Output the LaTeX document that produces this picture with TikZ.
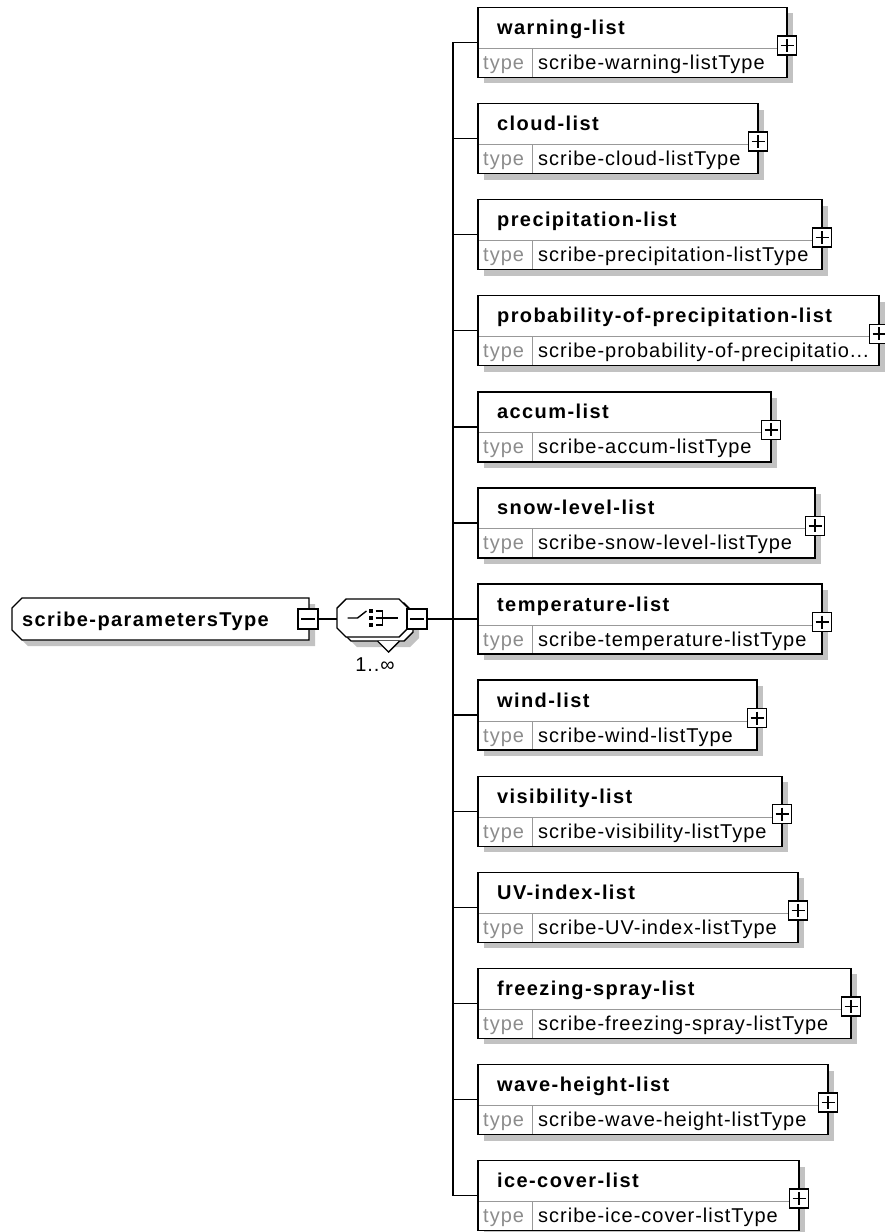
\documentclass[tikz,border=0pt]{standalone}
\usepackage{fontspec}
\setmainfont{Liberation Sans}
\newfontfamily\xsdfont{Liberation Sans}[LetterSpace=5]
\newfontfamily\xsdboldfont{Liberation Sans}[LetterSpace=7]
\usetikzlibrary{shadows,positioning}

\tikzset{
  wire/.style={line width=1.4pt},
  outline/.style={draw, line width=1.4pt, fill=white},
  shade/.style={fill=black!24},
  boxshadow/.style={drop shadow={shadow xshift=6pt, shadow yshift=-6pt, fill=black!24, opacity=1}},
  elembox/.style={draw, line width=1.4pt, fill=white, rectangle, inner sep=0pt, outer sep=0pt,
    minimum height=70pt, anchor=north west, boxshadow,
    path picture={
      \draw[black!40, line width=1pt]
        ([yshift=-41pt]path picture bounding box.north west) -- ([yshift=-41pt]path picture bounding box.north east)
        ([xshift=54pt,yshift=-41pt]path picture bounding box.north west) -- ([xshift=54pt]path picture bounding box.south west);
    }},
  holder/.style={rectangle, inner sep=0pt, outer sep=0pt},
  titletext/.style={anchor=base west, inner sep=0pt, font=\xsdboldfont\bfseries\fontsize{20}{24}\selectfont},
  kindtext/.style={anchor=base west, inner sep=0pt, text=black!45, font=\xsdfont\fontsize{20}{24}\selectfont},
  typetext/.style={anchor=base west, inner sep=0pt, font=\xsdfont\fontsize{20}{24}\selectfont},
  plusbox/.style={draw, line width=1.4pt, fill=white, minimum size=19pt, inner sep=0pt, outer sep=0pt,
    path picture={
      \draw[line width=1.6pt]
        ([xshift=3pt]path picture bounding box.west) -- ([xshift=-3pt]path picture bounding box.east)
        ([yshift=-3pt]path picture bounding box.north) -- ([yshift=3pt]path picture bounding box.south);
    }},
  minusbox/.style={draw, line width=1.4pt, fill=white, minimum size=20pt, inner sep=0pt, outer sep=0pt,
    path picture={
      \draw[line width=1.6pt]
        ([xshift=3pt]path picture bounding box.west) -- ([xshift=-3pt]path picture bounding box.east);
    }}
}

\begin{document}
\begin{tikzpicture}[x=1pt, y=-1pt]
\def\boxX{478}
\def\trunkX{453}
\def\startY{7.4}
\def\gapY{96.1}
\def\midY{619}
\useasboundingbox (0,0) rectangle (884,1232);

% root type
\fill[shade] (28,604) -- (315,604) -- (315,646) -- (28,646) -- (18,636) -- (18,614) -- cycle;
\path[outline] (22,598) -- (309,598) -- (309,640) -- (22,640) -- (12,630) -- (12,608) -- cycle;
\node[holder, minimum width=297pt, minimum height=42pt] (root) at (160.5,\midY) {};
\node[titletext] (root-title) at (22,\midY+7) {scribe-parametersType};
\node[minusbox] (root-m) at (308,\midY) {};

% sequence compositor, 1..unbounded
\fill[shade] (357,609) -- (410,609) -- (419,618) -- (419,638) -- (410,647) -- (357,647) -- (348,638) -- (348,618) -- cycle;
\path[outline] (351,603) -- (404,603) -- (413,612) -- (413,632) -- (404,641) -- (351,641) -- (342,632) -- (342,612) -- cycle;
\node[holder, minimum width=71pt, minimum height=38pt] (seqback) at (377.5,622) {};
\draw[wire, fill=white] ([xshift=0pt]seqback.south) -- ([xshift=11pt,yshift=-11pt]seqback.south) -- ([xshift=22pt]seqback.south);
\path[outline] (346,599) -- (399,599) -- (408,608) -- (408,628) -- (399,637) -- (346,637) -- (337,628) -- (337,608) -- cycle;
\node[holder, minimum width=71pt, minimum height=38pt] (seq) at (372.5,618) {};
\node[minusbox] (seq-m) at (417,\midY) {};
\node[typetext, anchor=base] (seq-card) at (375,671) {1..∞};

\begin{scope}[shift={(seq.center)}, line width=1.4pt]
\draw (-25,0) -- (-15,0) -- (-6,-7);
\fill (-4,-9) rectangle (0,-5);
\fill (-4,-2) rectangle (0,2);
\fill (-4,5) rectangle (0,9);
\draw (3,-7) -- (10,-7) -- (10,7) -- (3,7);
\draw (3,0) -- (25,0);
\end{scope}

\draw[wire] (root-m.east) -- (root-m.east -| seq.west);

% child elements
\foreach \name/\right/\title/\typ [count=\i from 0] in {
  warn/787/warning-list/scribe-warning-listType,
  cloud/758/cloud-list/scribe-cloud-listType,
  precip/822/precipitation-list/scribe-precipitation-listType,
  pop/879/probability-of-precipitation-list/{scribe-probability-of-precipitatio...},
  accum/771/accum-list/scribe-accum-listType,
  snow/815/snow-level-list/scribe-snow-level-listType,
  temp/822/temperature-list/scribe-temperature-listType,
  wind/757/wind-list/scribe-wind-listType,
  vis/782/visibility-list/scribe-visibility-listType,
  uv/798/UV-index-list/scribe-UV-index-listType,
  spray/851/freezing-spray-list/scribe-freezing-spray-listType,
  wave/828/wave-height-list/scribe-wave-height-listType,
  ice/799/ice-cover-list/scribe-ice-cover-listType}
{
  \pgfmathsetmacro\topY{\startY+\i*\gapY}
  \pgfmathsetmacro\boxwd{\right-\boxX}
  \node[elembox, minimum width=\boxwd pt] (\name) at (\boxX,\topY) {};
  \node[titletext] (\name-title) at ([xshift=19pt,yshift=-27pt]\name.north west) {\title};
  \node[kindtext] (\name-kind) at ([xshift=5pt,yshift=-62pt]\name.north west) {type};
  \node[typetext] (\name-type) at ([xshift=60pt,yshift=-62pt]\name.north west) {\typ};
  \node[plusbox] (\name-plus) at ([yshift=-38pt]\name.north east) {};
  \coordinate (\name-j) at ([xshift=-25pt]\name.west);
  \draw[wire] (\name-j) -- (\name.west);
}

\draw[wire] (warn-j) -- (ice-j);
\draw[wire] (seq-m.east) -- (seq-m.east -| temp-j);
\end{tikzpicture}
\end{document}
